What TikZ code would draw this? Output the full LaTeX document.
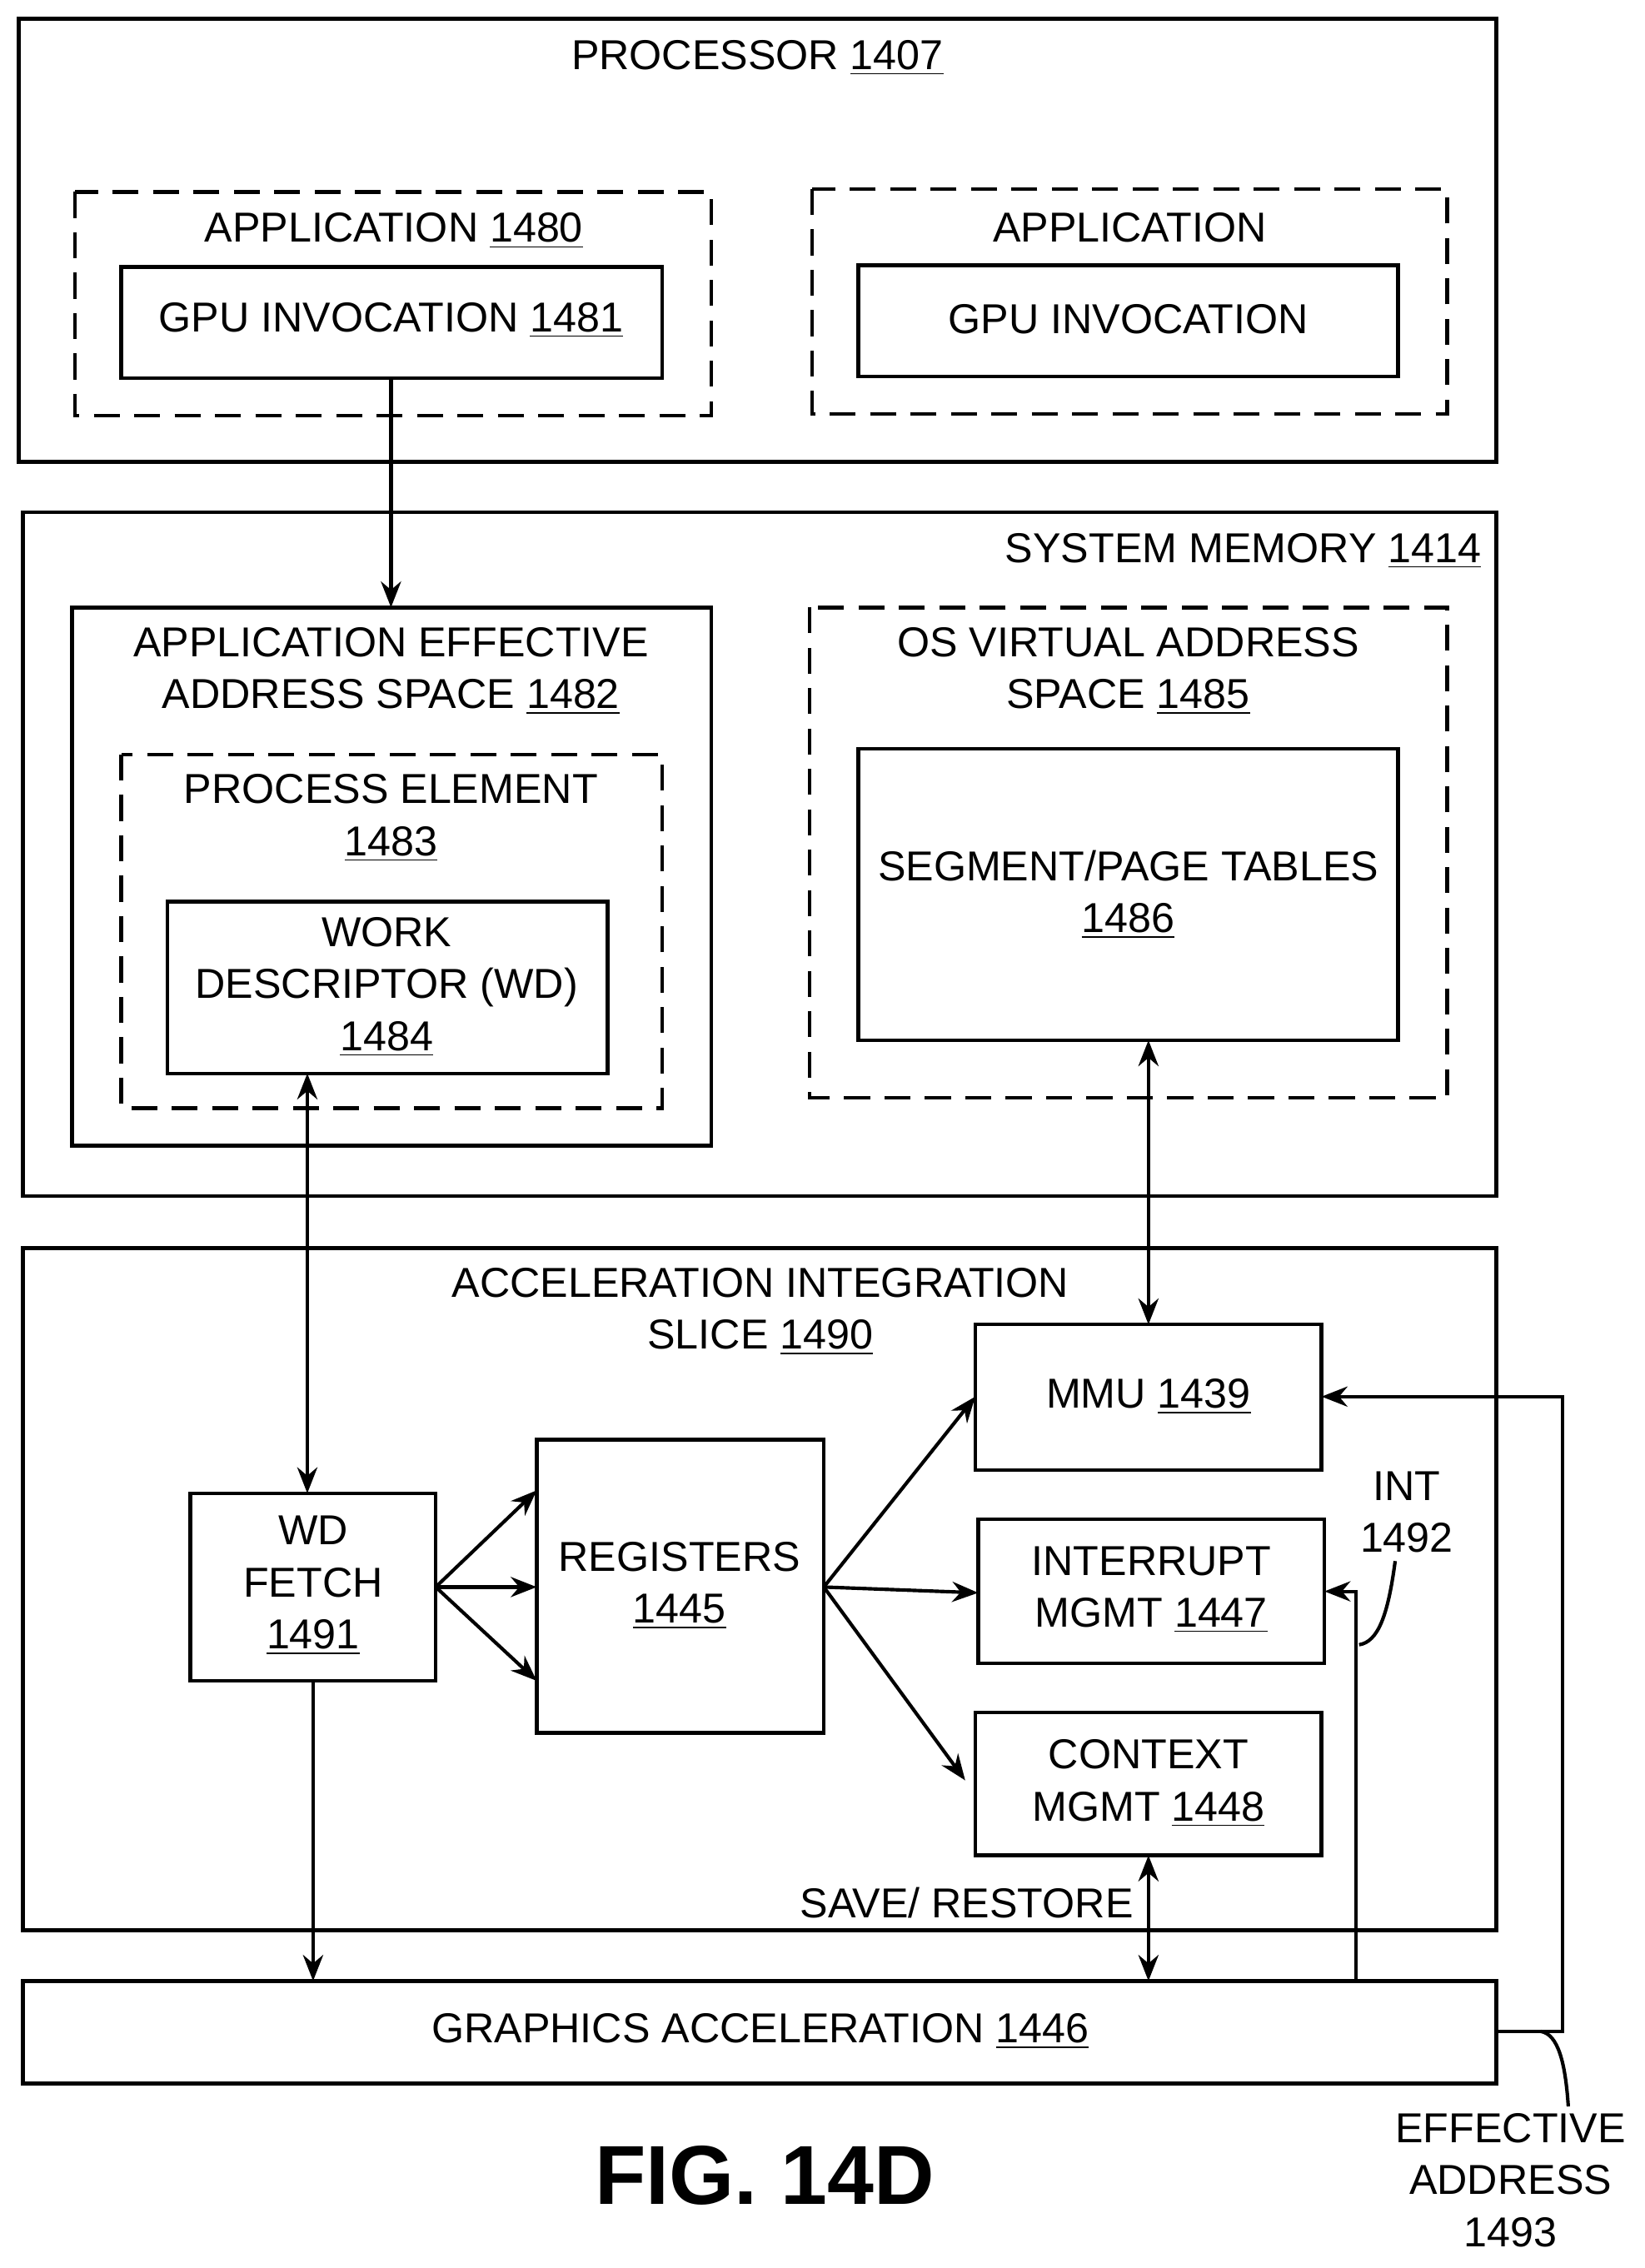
\documentclass[tikz,border=0pt]{standalone}
\usepackage{fontspec}
\setmainfont{Liberation Sans}
\usetikzlibrary{arrows.meta}
\tikzset{
  blk/.style = {draw=black, line width=1.3pt},
  dblk/.style = {blk, dash pattern=on 9pt off 5pt},
  lbl/.style = {font=\fontsize{14.5}{17}\selectfont, align=center, inner sep=0pt},
  conn/.style = {line width=1.2pt, -{Stealth[length=9pt,width=7pt]}},
  bconn/.style = {line width=1.2pt, {Stealth[length=9pt,width=7pt]}-{Stealth[length=9pt,width=7pt]}}}
\begin{document}
\begin{tikzpicture}[x=0.5pt,y=-0.5pt]
\useasboundingbox (0,0) rectangle (1140,1572);
% processor
\draw[blk] (13,13) rectangle (1037,320);
\node[lbl] (proc) at (525,40) {PROCESSOR \underline{1407}};
\draw[dblk] (52,133) rectangle (493,288);
\node[lbl] (app1) at (273,160) {APPLICATION \underline{1480}};
\draw[blk] (84,185) rectangle (459,262);
\node[lbl] (gpu1) at (271,222) {GPU INVOCATION \underline{1481}};
\coordinate (gpu1b) at (271,262);
\draw[dblk] (563,131) rectangle (1003,287);
\node[lbl] (app2) at (783,158) {APPLICATION};
\draw[blk] (595,184) rectangle (969,261);
\node[lbl] (gpu2) at (782,221) {GPU INVOCATION};
% system memory
\draw[blk] (16,355) rectangle (1037,829);
\node[lbl, anchor=east] (sysmem) at (1027,382) {SYSTEM MEMORY \underline{1414}};
\draw[blk] (50,421) rectangle (493,794);
\coordinate (aeast) at (271,421);
\node[lbl] (aeas) at (271,465) {APPLICATION EFFECTIVE\\[1pt]ADDRESS SPACE \underline{1482}};
\draw[dblk] (84,523) rectangle (459,768);
\node[lbl] (pe) at (271,567) {PROCESS ELEMENT\\[1pt]\underline{1483}};
\draw[blk] (116,625) rectangle (421,744);
\node[lbl] (wd) at (268,684) {WORK\\[1pt]DESCRIPTOR (WD)\\[1pt]\underline{1484}};
\coordinate (wdb) at (213,744);
\draw[dblk] (561,421) rectangle (1003,761);
\node[lbl] (osvas) at (782,465) {OS VIRTUAL ADDRESS\\[1pt]SPACE \underline{1485}};
\draw[blk] (595,519) rectangle (969,721);
\node[lbl] (seg) at (782,620) {SEGMENT/PAGE TABLES\\[1pt]\underline{1486}};
\coordinate (segb) at (796,721);
% acceleration integration slice
\draw[blk] (16,865) rectangle (1037,1338);
\node[lbl] (ais) at (527,909) {ACCELERATION INTEGRATION\\[1pt]SLICE \underline{1490}};
\draw[blk] (676,918) rectangle (916,1019);
\node[lbl] (mmu) at (796,968) {MMU \underline{1439}};
\draw[blk] (678,1053) rectangle (918,1153);
\node[lbl] (intr) at (798,1102) {INTERRUPT\\[1pt]MGMT \underline{1447}};
\draw[blk] (676,1187) rectangle (916,1286);
\node[lbl] (ctx) at (796,1236) {CONTEXT\\[1pt]MGMT \underline{1448}};
\draw[blk] (372,998) rectangle (571,1201);
\node[lbl] (reg) at (471,1099) {REGISTERS\\[1pt]\underline{1445}};
\draw[blk] (132,1035) rectangle (302,1165);
\node[lbl] (wdf) at (217,1099) {WD\\[1pt]FETCH\\[1pt]\underline{1491}};
% graphics acceleration
\draw[blk] (16,1373) rectangle (1037,1444);
\node[lbl] (ga) at (527,1408) {GRAPHICS ACCELERATION \underline{1446}};
\node[lbl] (sr) at (670,1319) {SAVE/ RESTORE};
\node[lbl] (int) at (975,1048) {INT\\[1pt]1492};
\node[lbl] (ea) at (1047,1511) {EFFECTIVE\\[1pt]ADDRESS\\[1pt]1493};
\node[font=\bfseries\fontsize{29}{33}\selectfont, inner sep=0pt] (fig) at (530,1508) {FIG. 14D};
% connectors
\draw[conn] (gpu1b) -- (aeast);
\draw[bconn] (wdb) -- (213,1035);
\draw[bconn] (segb) -- (796,918);
\foreach \y in {1033,1100,1165}
  \draw[conn] (302,1100) -- (372,\y);
\draw[conn] (571,1100) -- (676,968);
\draw[conn] (571,1100) -- (678,1104);
\draw[conn] (571,1100) -- (669,1234);
\draw[conn] (217,1165) -- (217,1373);
\draw[bconn] (796,1286) -- (796,1373);
\draw[conn] (940,1373) -- (940,1103) -- (918,1103);
\draw[conn] (1037,1408) -- (1083,1408) -- (1083,968) -- (916,968);
\draw[line width=1.2pt] (967,1082) .. controls (962,1120) and (955,1138) .. (942,1140);
\draw[line width=1.2pt] (1068,1408) .. controls (1080,1410) and (1085,1430) .. (1087,1460);
\end{tikzpicture}
\end{document}
